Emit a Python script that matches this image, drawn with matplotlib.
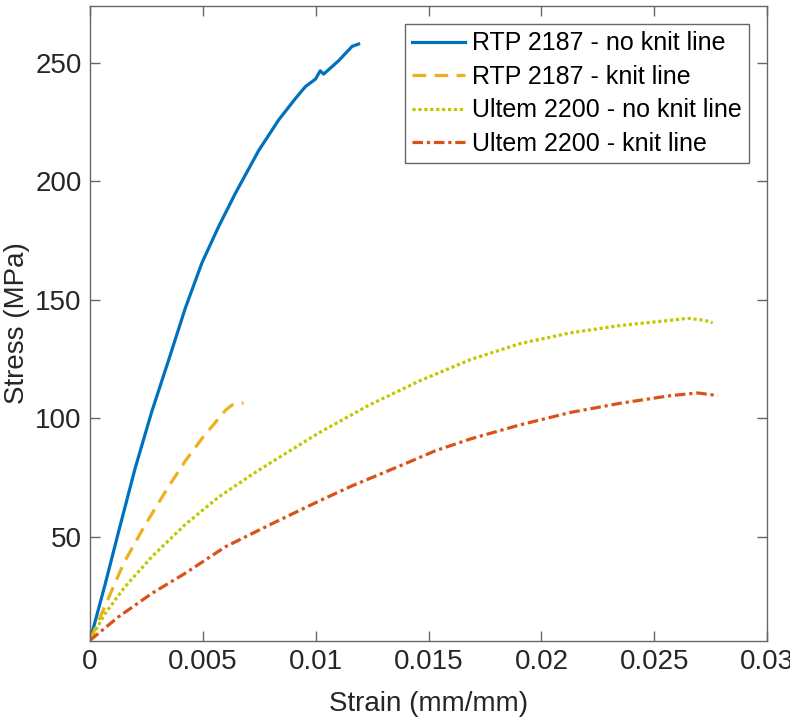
import numpy as np
import matplotlib
matplotlib.use('Agg')
import matplotlib.pyplot as plt

plt.rcParams['font.family'] = ['Liberation Sans', 'DejaVu Sans']

# RTP 2187 - no knit line
rtp_strain = [0.0, 0.00067, 0.00126, 0.0020, 0.00274, 0.00348, 0.00422,
              0.00496, 0.0057, 0.00644, 0.00747, 0.00836, 0.0091, 0.00954,
              0.00999, 0.0102, 0.01035, 0.01102, 0.01161, 0.0119]
rtp_stress = [6.3, 30.0, 52.0, 79.0, 103.0, 124.5, 146.5,
              165.7, 181.0, 195.0, 213.0, 226.0, 235.0, 240.0,
              243.2, 246.7, 245.3, 251.0, 257.0, 258.0]

# RTP 2187 - knit line
rtpk_strain = [0.0, 0.00081, 0.0015, 0.00244, 0.00348, 0.00422, 0.00496, 0.0060,
               0.00629, 0.0068]
rtpk_stress = [6.3, 24.0, 39.0, 55.0, 71.2, 82.0, 91.5, 103.4,
               105.6, 106.5]

# Ultem 2200 - no knit line
ult_strain = [0.0, 0.00067, 0.00155, 0.00274, 0.00422, 0.0057, 0.00718, 0.00806,
              0.01013, 0.01235, 0.01465, 0.01686, 0.01908, 0.0213, 0.02352,
              0.02574, 0.02648, 0.02722, 0.02759]
ult_stress = [6.3, 17.6, 28.9, 41.6, 55.2, 66.8, 76.3, 81.6,
              93.8, 105.5, 116.0, 124.8, 131.6, 136.1, 139.2,
              141.4, 142.2, 141.4, 140.3]

# Ultem 2200 - knit line
ultk_strain = [0.0, 0.00126, 0.00274, 0.00422, 0.006, 0.00806, 0.01013, 0.01161,
               0.01383, 0.0153, 0.01686, 0.01908, 0.0213, 0.02352, 0.02574,
               0.02692, 0.02781]
ultk_stress = [6.3, 16.2, 26.1, 34.6, 45.8, 55.5, 65.0, 71.5,
               80.3, 86.3, 91.3, 97.3, 102.5, 106.4, 109.6,
               110.7, 109.6]

labels = ['RTP 2187 - no knit line', 'RTP 2187 - knit line',
          'Ultem 2200 - no knit line', 'Ultem 2200 - knit line']

fig = plt.figure(figsize=(7.9, 7.19), dpi=100)
ax = fig.add_axes([0.114, 0.1085, 0.857, 0.883])

lw = 2.3
ax.plot(rtp_strain, rtp_stress, color='#0072BD', lw=lw, ls='-', label=labels[0])
ax.plot(rtpk_strain, rtpk_stress, color='#EDB120', lw=lw, ls=(0, (4.3, 2.6)), label=labels[1])
ax.plot(ult_strain, ult_stress, color='#C2C800', lw=lw, ls=(0, (1, 0.85)), label=labels[2])
ax.plot(ultk_strain, ultk_stress, color='#D95319', lw=lw, ls=(0, (3.3, 1.2, 1, 1.2)), label=labels[3])

ax.set_xlim(0, 0.03)
ax.set_ylim(6, 274)
ax.set_xticks([0, 0.005, 0.01, 0.015, 0.02, 0.025, 0.03])
ax.set_xticklabels(['0', '0.005', '0.01', '0.015', '0.02', '0.025', '0.03'])
ax.set_yticks([50, 100, 150, 200, 250])

for s in ax.spines.values():
    s.set_color('#666666')
    s.set_linewidth(1.0)
ax.tick_params(direction='in', length=7, width=1, colors='#666666',
               labelcolor='#262626', labelsize=20, top=True, right=True, pad=6)

ax.set_xlabel('Strain (mm/mm)', fontsize=20, color='#262626', labelpad=11)
ax.set_ylabel('Stress (MPa)', fontsize=20, color='#262626', labelpad=4)

leg = ax.legend(loc='upper right', bbox_to_anchor=(0.973, 0.972), fontsize=18,
                fancybox=False, framealpha=1, edgecolor='#666666',
                handlelength=2.1, handletextpad=0.28, borderpad=0.3,
                labelspacing=0.38, borderaxespad=0)
leg.get_frame().set_linewidth(1.0)

fig.savefig('out.png', dpi=100)
